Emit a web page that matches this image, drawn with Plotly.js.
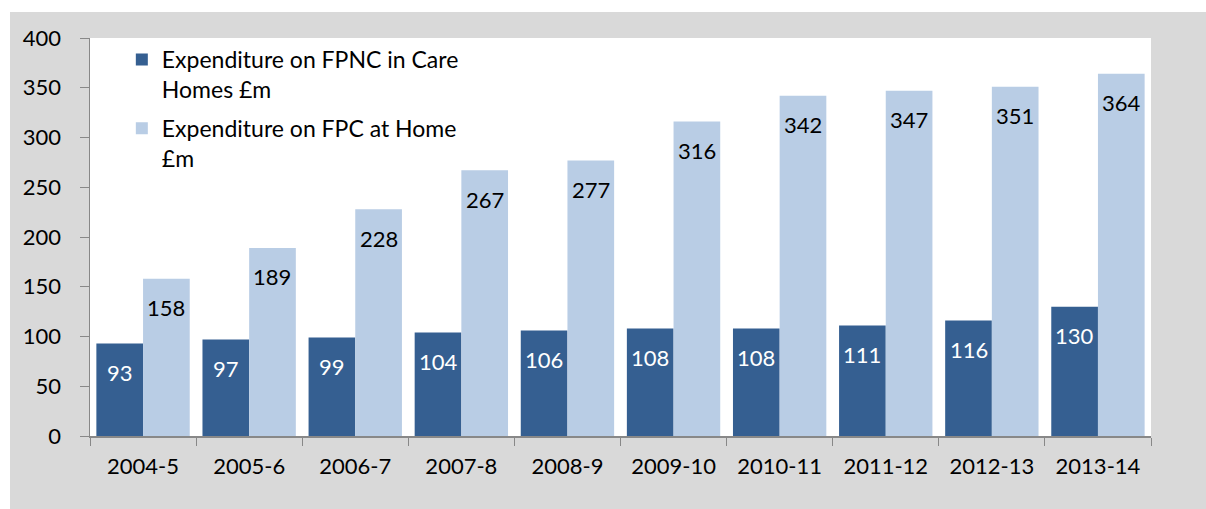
<!DOCTYPE html>
<html><head><meta charset="utf-8">
<script src="https://cdn.plot.ly/plotly-3.0.1.min.js"></script>
<style>html,body{margin:0;padding:0;background:#fff;}#chart{position:absolute;left:10px;top:12px;width:1196px;height:497px;}</style>
</head><body><div id="chart"></div>
<script>
const categories = ["2004-5","2005-6","2006-7","2007-8","2008-9","2009-10","2010-11","2011-12","2012-13","2013-14"];
const careHomes = [93,97,99,104,106,108,108,111,116,130];
const atHome = [158,189,228,267,277,316,342,347,351,364];
const seriesNames = ["Expenditure on FPNC in Care<br>Homes £m","Expenditure on FPC at Home<br>£m"];
const yTicks = [0,50,100,150,200,250,300,350,400];

const fam = "Lato, 'Noto Sans', sans-serif";
const tickFont = {family:fam, size:22, color:"#000"};
const traces = [
  {type:"bar", x:categories, y:careHomes, name:seriesNames[0], legendgroup:"a", marker:{color:"#355f91"}, hoverinfo:"none"},
  {type:"bar", x:categories, y:atHome, name:seriesNames[1], legendgroup:"b", marker:{color:"#b9cde5"}, hoverinfo:"none"}
];
const annotations = [];
categories.forEach((c,i)=>{
  annotations.push({x:i-0.22, y:careHomes[i], xref:"x", yref:"y", text:String(careHomes[i]), showarrow:false, yanchor:"middle", yshift:-29, font:{family:fam,size:22,color:"#fff"}});
  annotations.push({x:i+0.22, y:atHome[i], xref:"x", yref:"y", text:String(atHome[i]), showarrow:false, yanchor:"middle", yshift:-29, font:{family:fam,size:22,color:"#000"}});
});
const layout = {
  width:1196, height:497,
  margin:{l:80,r:55,t:26,b:73},
  paper_bgcolor:"#d9d9d9", plot_bgcolor:"#fff",
  font:tickFont,
  barmode:"group", bargap:0.12, bargroupgap:0,
  showlegend:true,
  legend:{x:0.03, y:1.0, xanchor:"left", yanchor:"top", valign:"top", bgcolor:"rgba(0,0,0,0)", font:{family:fam,size:23}, tracegroupgap:6, itemwidth:30},
  xaxis:{type:"category", tickson:"boundaries", ticks:"outside", ticklen:8, tickcolor:"#888", showline:true, linecolor:"#888", linewidth:1.5, showgrid:false, tickfont:tickFont, range:[-0.5,9.5], ticklabelstandoff:10},
  yaxis:{range:[0,400], tickvals:yTicks, ticks:"outside", ticklen:9, tickcolor:"#888", showline:true, linecolor:"#888", linewidth:1.5, showgrid:false, zeroline:false, tickfont:tickFont, ticklabelstandoff:14},
  annotations:annotations
};
Plotly.newPlot("chart", traces, layout, {displayModeBar:false, staticPlot:true});
</script></body></html>
